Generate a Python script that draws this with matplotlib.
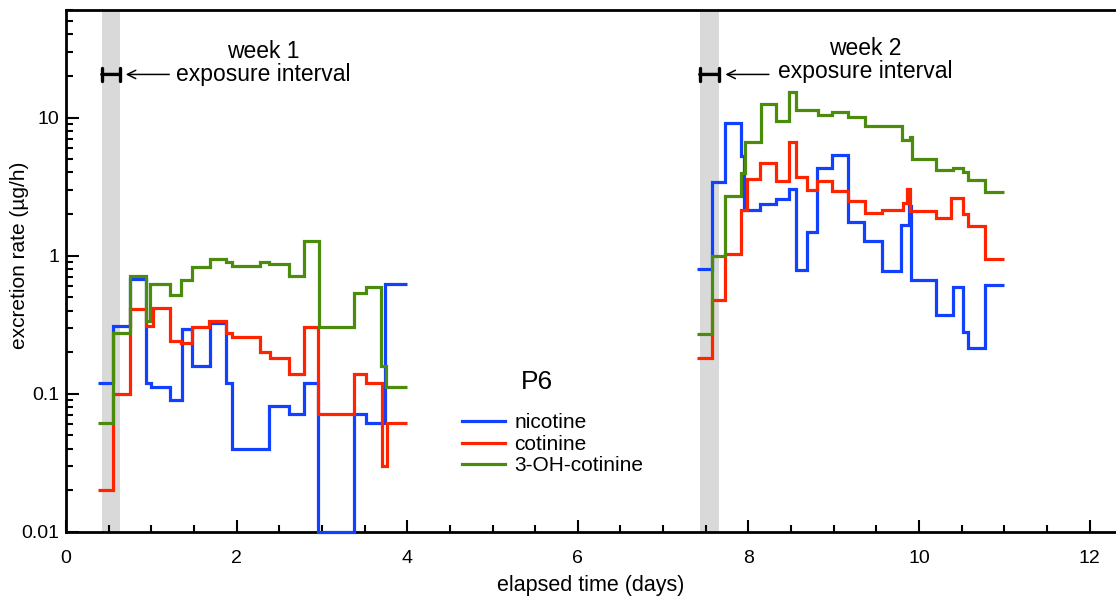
import matplotlib
matplotlib.use("Agg")
import matplotlib.pyplot as plt
from matplotlib.lines import Line2D
from matplotlib.ticker import LogLocator, NullFormatter, MultipleLocator, FixedLocator, FixedFormatter

plt.rcParams['font.family'] = ['Liberation Sans', 'DejaVu Sans']

# ---------------- data (step edges in days, values in ug/h) ----------------
nic_w1_edges = [0.37, 0.555, 0.75, 0.938, 1.0, 1.22, 1.356, 1.48, 1.69, 1.87, 1.95,
                2.38, 2.61, 2.79, 2.96, 3.38, 3.52, 3.74, 4.0]
nic_w1_vals = [0.12, 0.31, 0.68, 0.12, 0.113, 0.09, 0.296, 0.16, 0.325, 0.12,
               0.04, 0.081, 0.071, 0.12, 0.01, 0.071, 0.061, 0.62]

cot_w1_edges = [0.37, 0.555, 0.75, 0.938, 1.02, 1.22, 1.345, 1.48, 1.68, 1.875, 1.95,
                2.27, 2.39, 2.61, 2.79, 2.96, 3.38, 3.52, 3.71, 3.76, 4.0]
cot_w1_vals = [0.02, 0.1, 0.41, 0.31, 0.42, 0.243, 0.233, 0.304, 0.336, 0.275,
               0.26, 0.2, 0.183, 0.14, 0.304, 0.071, 0.14, 0.12, 0.03, 0.061]

oh_w1_edges = [0.37, 0.555, 0.75, 0.938, 0.99, 1.22, 1.345, 1.48, 1.69, 1.875, 1.95,
               2.27, 2.38, 2.61, 2.79, 2.97, 3.38, 3.52, 3.69, 3.75, 4.0]
oh_w1_vals = [0.061, 0.275, 0.71, 0.338, 0.623, 0.522, 0.67, 0.828, 0.95, 0.9,
              0.847, 0.9, 0.87, 0.71, 1.28, 0.304, 0.537, 0.589, 0.16, 0.112]

nic_w2_edges = [7.40, 7.57, 7.73, 7.91, 7.95, 8.14, 8.32, 8.48, 8.56, 8.69, 8.81,
                8.98, 9.17, 9.36, 9.57, 9.79, 9.88, 9.91, 10.2, 10.40, 10.51,
                10.58, 10.77, 11.0]
nic_w2_vals = [0.80, 3.42, 9.16, 5.25, 2.15, 2.38, 2.59, 3.06, 0.79, 1.49, 4.32,
               5.39, 1.75, 1.27, 0.77, 1.66, 2.3, 0.67, 0.374, 0.589, 0.278,
               0.214, 0.617]

cot_w2_edges = [7.40, 7.57, 7.73, 7.91, 7.98, 8.14, 8.32, 8.48, 8.56, 8.69, 8.81,
                8.98, 9.17, 9.37, 9.57, 9.81, 9.855, 9.90, 10.2, 10.37, 10.52,
                10.58, 10.77, 11.0]
cot_w2_vals = [0.183, 0.48, 1.03, 2.15, 3.56, 4.7, 3.45, 6.62, 3.72, 3.01, 3.45,
               2.92, 2.47, 2.02, 2.13, 2.41, 3.05, 2.1, 1.88, 2.62, 2.0, 1.63, 0.95]

oh_w2_edges = [7.40, 7.57, 7.73, 7.91, 7.96, 8.15, 8.32, 8.48, 8.56, 8.82, 8.98,
               9.17, 9.37, 9.80, 9.89, 9.92, 10.2, 10.40, 10.51, 10.58, 10.77, 11.0]
oh_w2_vals = [0.271, 0.99, 2.69, 3.97, 6.62, 12.6, 9.5, 15.4, 11.4, 10.5, 11.0,
              10.1, 8.65, 6.85, 7.2, 5.02, 4.2, 4.32, 4.04, 3.52, 2.88]

exposure_intervals = [(0.42, 0.63), (7.43, 7.66)]
week_labels = ["week 1\nexposure interval", "week 2\nexposure interval"]
legend_title = "P6"
legend_labels = ["nicotine", "cotinine", "3-OH-cotinine"]
x_ticks = [0, 2, 4, 6, 8, 10, 12]
y_ticks = [0.01, 0.1, 1, 10]
y_tick_labels = ["0.01", "0.1", "1", "10"]

# ---------------- figure ----------------
W, H = 1116, 601
fig = plt.figure(figsize=(W / 100, H / 100), dpi=100)
ax = fig.add_axes([66 / W, 1 - 532 / H, (W - 66) / W, (532 - 10) / H])

blue = '#1240ff'
red = '#ff2400'
green = '#4b8c0c'
lw = 2.3

for a, b in exposure_intervals:
    ax.axvspan(a, b, color='#d9d9d9', lw=0, zorder=0)

for edges, vals, col in [(nic_w1_edges, nic_w1_vals, blue), (nic_w2_edges, nic_w2_vals, blue),
                         (cot_w1_edges, cot_w1_vals, red), (cot_w2_edges, cot_w2_vals, red),
                         (oh_w1_edges, oh_w1_vals, green), (oh_w2_edges, oh_w2_vals, green)]:
    ax.stairs(vals, edges, color=col, lw=lw, baseline=None, zorder=3, clip_on=False)

ax.set_yscale('log')
ax.set_xlim(0, (W - 66) / 85.3)
ax.set_ylim(0.01, 60)

ax.yaxis.set_major_locator(FixedLocator(y_ticks))
ax.yaxis.set_major_formatter(FixedFormatter(y_tick_labels))
ax.yaxis.set_minor_locator(LogLocator(base=10, subs=range(2, 10)))
ax.yaxis.set_minor_formatter(NullFormatter())
ax.xaxis.set_major_locator(FixedLocator(x_ticks))
ax.xaxis.set_minor_locator(MultipleLocator(0.5))

ax.tick_params(which='both', direction='in', top=False, right=False, labelsize=14,
               width=1.5, colors='black')
ax.tick_params(which='major', length=9)
ax.tick_params(which='minor', length=5)
ax.tick_params(axis='x', pad=13)
ax.tick_params(axis='y', pad=5)
for s in ['left', 'bottom', 'top']:
    ax.spines[s].set_linewidth(2)
ax.spines['right'].set_visible(False)

ax.set_xlabel('elapsed time (days)', fontsize=15.5)
ax.xaxis.set_label_coords(0.5, -(586 - 532) / 522, transform=ax.transAxes)
ax.xaxis.label.set_va('center')
ax.set_ylabel('excretion rate (µg/h)', fontsize=15)
ax.yaxis.set_label_coords((20 - 66) / (W - 66), (532 - 255) / 522, transform=ax.transAxes)
ax.yaxis.label.set_va('center')

# exposure interval annotations
bracket_y = 20.5
for (a, b), lab, tx, ty in zip(exposure_intervals, week_labels, [2.31, 9.37], [24.6, 25.9]):
    ax.annotate('', xy=(a, bracket_y), xytext=(b, bracket_y),
                arrowprops=dict(arrowstyle='|-|, widthA=0.45, widthB=0.45', lw=2.4,
                                color='black', shrinkA=0, shrinkB=0))
    ax.annotate('', xy=(b + 0.07, bracket_y), xytext=(b + 0.58, bracket_y),
                arrowprops=dict(arrowstyle='->, head_length=0.6, head_width=0.3', lw=1.1,
                                color='black', shrinkA=0, shrinkB=0))
    ax.text(tx, ty, lab, ha='center', va='center', fontsize=16.5, linespacing=1.0)

# legend
handles = [Line2D([], [], color=c, lw=lw) for c in (blue, red, green)]
leg = ax.legend(handles, legend_labels, loc='upper left',
                bbox_to_anchor=((452 - 66) / (W - 66), (532 - 403) / 522),
                frameon=False, fontsize=15, handlelength=2.05,
                handletextpad=0.45, labelspacing=0.12, borderpad=0.0)
ax.text((537 - 66) / (W - 66), (532 - 382) / 522, legend_title, transform=ax.transAxes,
        ha='center', va='center', fontsize=19)

fig.savefig('out.png', dpi=100)
